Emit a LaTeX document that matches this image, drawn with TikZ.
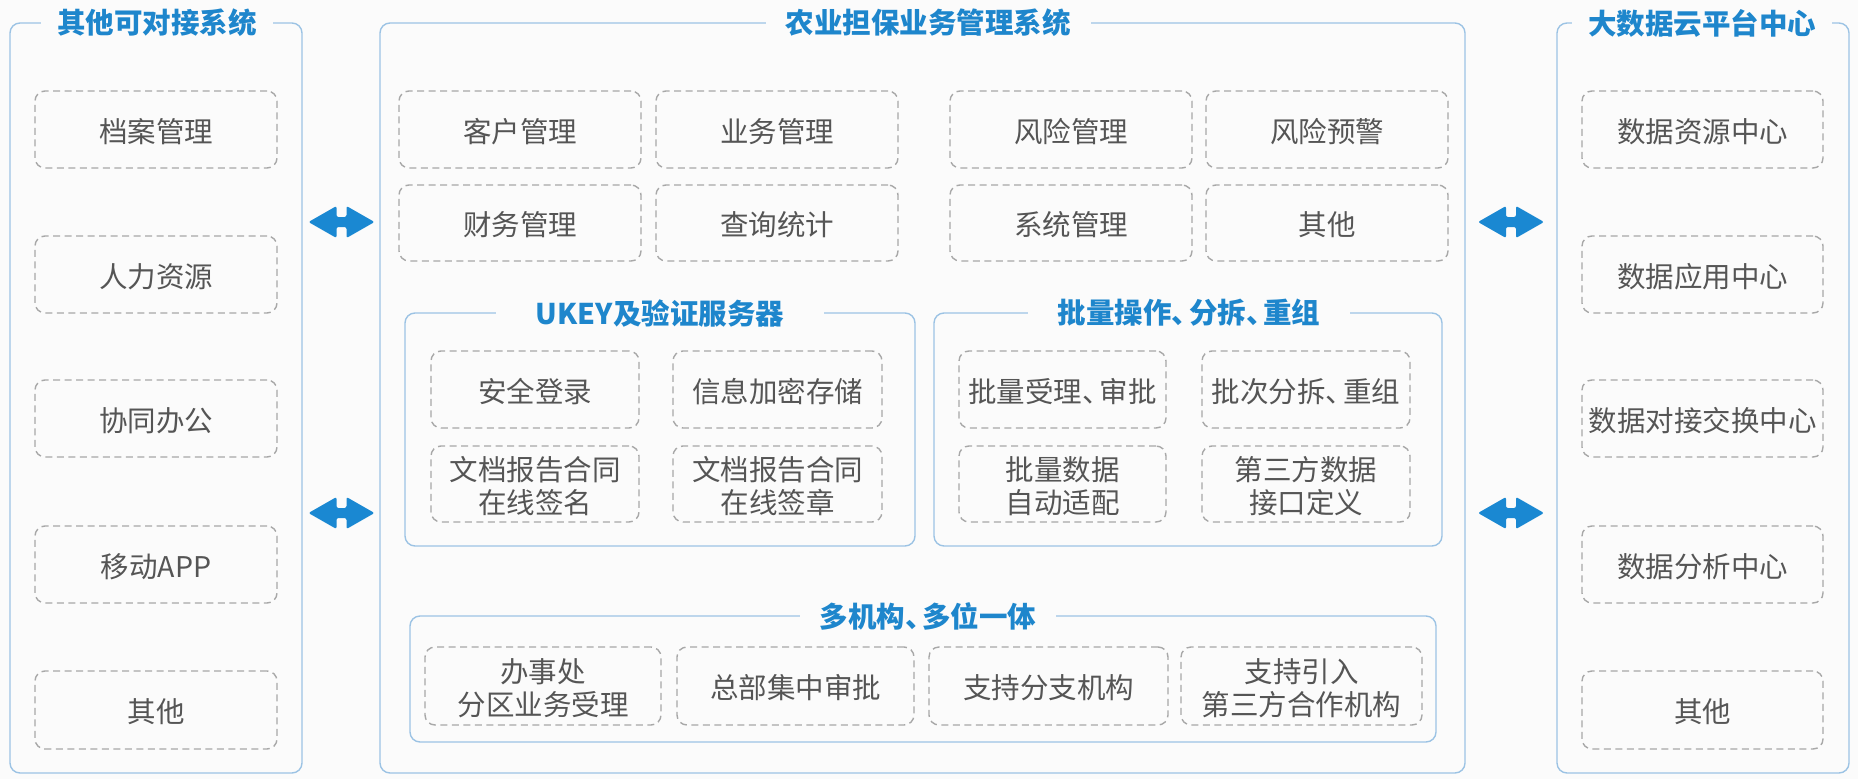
\documentclass[tikz,border=0pt]{standalone}
\usepackage{fontspec}
\setmainfont{Noto Sans CJK SC}
\definecolor{bordblue}{HTML}{9CC3E4}
\definecolor{titleblue}{HTML}{1E86CC}
\definecolor{arrowblue}{HTML}{1A88D2}
\definecolor{dashgray}{HTML}{A8A8A8}
\definecolor{txtgray}{HTML}{555555}
\definecolor{bgc}{HTML}{FBFBFB}
\newcommand{\dun}{、\kern-0.4em}
\tikzset{
  grp/.style={draw=bordblue, line width=1.4pt, rounded corners=10pt, inner sep=0pt},
  dbox/.style={draw=dashgray, line width=1.4pt, dash pattern=on 7pt off 4.5pt, rounded corners=10pt,
    inner sep=0pt},
  dtext/.style={inner sep=0pt, text=txtgray, align=center, font=\fontsize{28.5}{33}\selectfont},
  ttl/.style={text=titleblue, fill=bgc, inner ysep=2pt, font=\fontsize{28.5}{33}\selectfont\bfseries},
}
\newcommand{\grpbox}[5]{\node[grp, minimum width={(#4)-(#2)}, minimum height={(#5)-(#3)}] (#1) at ({((#2)+(#4))/2},{((#3)+(#5))/2}) {};}
\newcommand{\bx}[6]{\node[dbox, minimum width={(#4)-(#2)}, minimum height={(#5)-(#3)}] (#1) at ({((#2)+(#4))/2},{((#3)+(#5))/2}) {};
  \node[dtext] (#1-t) at ([yshift=-2pt]#1.center) {#6};}
\newcommand{\dblarrow}[2]{%
  \fill[arrowblue, rounded corners=2pt] (#1-33,#2) -- (#1-5,#2-16) -- (#1-5,#2-5) -- (#1+5,#2-5) -- (#1+5,#2-16) -- (#1+33,#2) -- (#1+5,#2+16) -- (#1+5,#2+5) -- (#1-5,#2+5) -- (#1-5,#2+16) -- cycle;}
\begin{document}
\begin{tikzpicture}[x=1pt,y=-1pt]
\useasboundingbox[fill=bgc] (0,0) rectangle (1858,779);

% outer groups
\grpbox{left}{10}{23}{302}{773}
\grpbox{center}{380}{23}{1465}{773}
\grpbox{right}{1557}{23}{1849}{773}
\node[ttl, inner xsep=16pt] (tleft) at (157,23) {其他可对接系统};
\node[ttl, inner xsep=20pt] (tcenter) at (928,23) {农业担保业务管理系统};
\node[ttl, inner xsep=16pt] (tright) at (1702,23) {大数据云平台中心};

% left column
\bx{l1}{35}{91}{277}{168}{档案管理}
\bx{l2}{35}{236}{277}{313}{人力资源}
\bx{l3}{35}{380}{277}{457}{协同办公}
\bx{l4}{35}{526}{277}{603}{移动APP}
\bx{l5}{35}{671}{277}{749}{其他}

% right column
\bx{r1}{1582}{91}{1823}{168}{数据资源中心}
\bx{r2}{1582}{236}{1823}{313}{数据应用中心}
\bx{r3}{1582}{380}{1823}{457}{数据对接交换中心}
\bx{r4}{1582}{526}{1823}{603}{数据分析中心}
\bx{r5}{1582}{671}{1823}{749}{其他}

% center top modules
\bx{c1}{399}{91}{641}{168}{客户管理}
\bx{c2}{656}{91}{898}{168}{业务管理}
\bx{c3}{950}{91}{1192}{168}{风险管理}
\bx{c4}{1206}{91}{1448}{168}{风险预警}
\bx{c5}{399}{185}{641}{261}{财务管理}
\bx{c6}{656}{185}{898}{261}{查询统计}
\bx{c7}{950}{185}{1192}{261}{系统管理}
\bx{c8}{1206}{185}{1448}{261}{其他}

% UKEY group
\grpbox{ukey}{405}{313}{915}{546}
\node[ttl, inner xsep=40pt] (tukey) at (660,313) {UKEY及验证服务器};
\bx{u1}{431}{351}{639}{428}{安全登录}
\bx{u2}{673}{351}{882}{428}{信息加密存储}
\bx{u3}{431}{446}{639}{522}{文档报告合同\\在线签名}
\bx{u4}{673}{446}{882}{522}{文档报告合同\\在线签章}

% batch group
\grpbox{batch}{934}{313}{1442}{546}
\node[ttl, inner xsep=30pt] (tbatch) at (1189,313) {批量操作\dun 分拆\dun 重组};
\bx{b1}{959}{351}{1166}{428}{批量受理\dun 审批}
\bx{b2}{1202}{351}{1410}{428}{批次分拆\dun 重组}
\bx{b3}{959}{446}{1166}{522}{批量数据\\自动适配}
\bx{b4}{1202}{446}{1410}{522}{第三方数据\\接口定义}

% multi group
\grpbox{multi}{410}{616}{1436}{742}
\node[ttl, inner xsep=20pt] (tmulti) at (928,616) {多机构\dun 多位一体};
\bx{m1}{425}{647}{661}{725}{办事处\\分区业务受理}
\bx{m2}{677}{647}{914}{725}{总部集中审批}
\bx{m3}{929}{647}{1168}{725}{支持分支机构}
\bx{m4}{1181}{647}{1422}{725}{支持引入\\第三方合作机构}

% double arrows
\dblarrow{341.5}{222}
\dblarrow{341.5}{513}
\dblarrow{1511}{222}
\dblarrow{1511}{513}
\end{tikzpicture}
\end{document}
